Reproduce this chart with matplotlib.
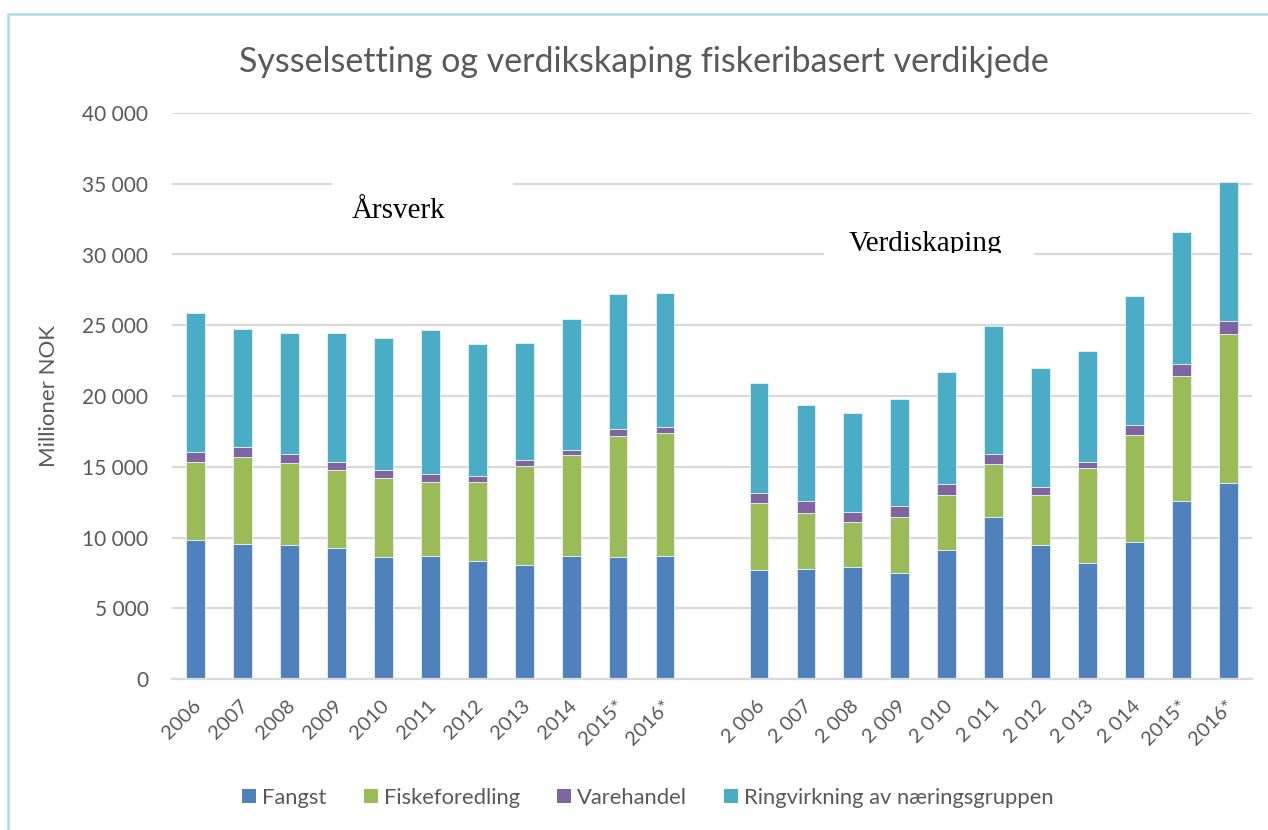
import matplotlib
matplotlib.use("Agg")
import matplotlib.pyplot as plt
import matplotlib.transforms as mtransforms
from matplotlib.patches import Patch, Rectangle
from matplotlib.ticker import FuncFormatter
import numpy as np

# Categories (left group: årsverk, right group: verdiskaping, blank slot between)
labels_left = ["2006", "2007", "2008", "2009", "2010", "2011", "2012", "2013", "2014", "2015*", "2016*"]
labels_right = ["2 006", "2 007", "2 008", "2 009", "2 010", "2 011", "2 012", "2 013", "2 014", "2015*", "2016*"]

# Series values
fangst_left = [9820, 9560, 9470, 9280, 8600, 8720, 8340, 8080, 8670, 8600, 8690]
fisk_left = [5490, 6150, 5800, 5490, 5580, 5200, 5560, 6950, 7140, 8590, 8690]
vare_left = [750, 660, 660, 590, 610, 540, 470, 420, 400, 470, 450]
ring_left = [9780, 8340, 8550, 9070, 9330, 10180, 9330, 8320, 9260, 9520, 9440]

fangst_right = [7720, 7760, 7930, 7500, 9130, 11440, 9440, 8170, 9700, 12590, 13860]
fisk_right = [4700, 3970, 3150, 3970, 3840, 3780, 3530, 6710, 7550, 8790, 10550]
vare_right = [720, 840, 700, 740, 810, 690, 580, 480, 710, 880, 910]
ring_right = [7810, 6780, 7040, 7550, 7910, 9010, 8400, 7840, 9130, 9350, 9770]

series_names = ["Fangst", "Fiskeforedling", "Varehandel", "Ringvirkning av næringsgruppen"]
colors = ["#4F81BD", "#9BBB59", "#8064A2", "#4BACC6"]

# Join the two groups with one empty category in between
labels = labels_left + [""] + labels_right
series = [
    fangst_left + [0] + fangst_right,
    fisk_left + [0] + fisk_right,
    vare_left + [0] + vare_right,
    ring_left + [0] + ring_right,
]

W, H = 1268, 830
fig = plt.figure(figsize=(W / 100, H / 100), dpi=100)
ax = fig.add_axes([172 / W, 1 - 679 / H, (1252 - 172) / W, (679 - 113) / H])

text_col = "#595959"
grid_col = "#D9D9D9"

x = np.arange(len(labels))
bottom = np.zeros(len(labels))
for vals, name, col in zip(series, series_names, colors):
    vals = np.array(vals, dtype=float)
    ax.bar(x, vals, width=0.4, bottom=bottom, color=col, edgecolor="#E8F1F8",
           linewidth=0.6, label=name, zorder=2)
    bottom += vals

ax.set_xlim(-0.5, len(labels) - 0.5)
ax.set_ylim(0, 40000)
ax.set_yticks(np.arange(0, 40001, 5000))
ax.yaxis.set_major_formatter(FuncFormatter(lambda v, p: f"{int(v):,}".replace(",", " ")))
ax.grid(axis="y", color=grid_col, linewidth=1.6)
ax.set_axisbelow(True)
for s in ["top", "right", "left"]:
    ax.spines[s].set_visible(False)
ax.spines["bottom"].set_color(grid_col)
ax.spines["bottom"].set_linewidth(1.6)
ax.tick_params(length=0, labelcolor=text_col)
ax.tick_params(axis="y", pad=17, labelsize=15)
ax.tick_params(axis="x", labelsize=14.5)

ax.set_xticks(x)
ax.set_xticklabels(labels, rotation=45, ha="right", va="center", rotation_mode="anchor")
offset = mtransforms.ScaledTranslation(3 / 100, -19 / 100, fig.dpi_scale_trans)
for t in ax.get_xticklabels():
    t.set_transform(t.get_transform() + offset)
    t.set_fontfamily("Lato")
for t in ax.get_yticklabels():
    t.set_fontfamily("Lato")

ax.set_ylabel("Millioner NOK", fontsize=16, color=text_col, family="Lato")
ax.yaxis.set_label_coords((59 - 172) / 1080, 0.5)

fig.text(644 / W, 1 - 62 / H, "Sysselsetting og verdikskaping fiskeribasert verdikjede",
         ha="center", va="center", fontsize=24.5, color=text_col, family="Lato")

# Text boxes inside the plot area
def fig_rect(x0, y0, x1, y1):
    return Rectangle((x0 / W, 1 - y1 / H), (x1 - x0) / W, (y1 - y0) / H,
                     transform=fig.transFigure, facecolor="white", edgecolor="none", zorder=1)

ax.add_patch(fig_rect(332, 176, 513, 236))
ax.text(399 / W, 1 - 218 / H, "Årsverk", transform=fig.transFigure, ha="center",
        va="baseline", fontsize=21, family="Liberation Serif", color="black", zorder=3)

ax.add_patch(fig_rect(824, 224, 1034, 257))
vt = ax.text(925 / W, 1 - 251 / H, "Verdiskaping", transform=fig.transFigure, ha="center",
             va="baseline", fontsize=21, family="Liberation Serif", color="black", zorder=3)
vt.set_clip_on(True)
vt.set_clip_box(mtransforms.TransformedBbox(
    mtransforms.Bbox([[824 / W, 1 - 253 / H], [1034 / W, 1 - 200 / H]]), fig.transFigure))

handles = [Patch(facecolor=c, edgecolor="none") for c in colors]
leg = fig.legend(handles, series_names, loc="center", bbox_to_anchor=(648 / W, 1 - 798 / H),
                 ncol=4, frameon=False, handlelength=0.63, handleheight=0.63,
                 handletextpad=0.27, columnspacing=1.7,
                 prop={"family": "Lato", "size": 15.8})
for t in leg.get_texts():
    t.set_color(text_col)

# Light blue chart frame
fig.patches.append(Rectangle((8 / W, -0.05), 1.2, 1 - 14 / H + 0.05, transform=fig.transFigure,
                             facecolor="none", edgecolor="#A6DFEA", linewidth=1.8))

fig.savefig("out.png", dpi=100)
